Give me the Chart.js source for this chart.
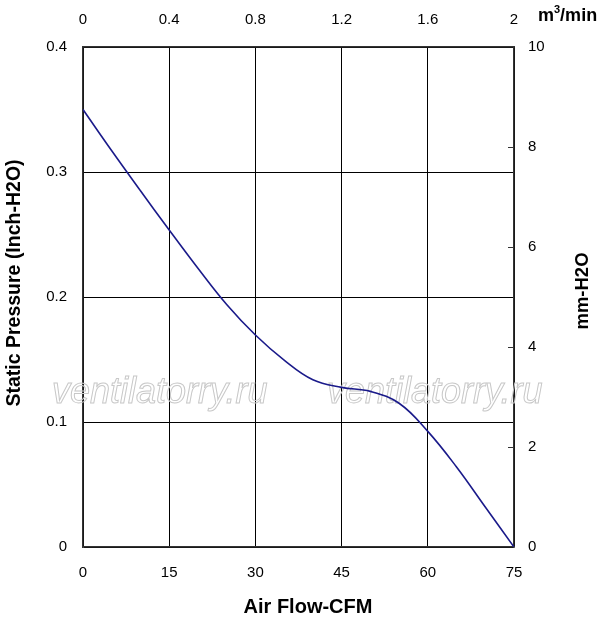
<!DOCTYPE html>
<html>
<head>
<meta charset="utf-8">
<script src="https://cdn.jsdelivr.net/npm/chart.js@4.4.0/dist/chart.umd.min.js"></script>
<style>
html,body{margin:0;padding:0;background:#fff;}
#wrap{width:600px;height:626px;}
</style>
</head>
<body>
<div id="wrap"><canvas id="c" width="600" height="626"></canvas></div>
<script>
// ---- data ----
const airflowCFM = [0, 5, 10, 15, 20, 25, 30, 35, 40, 45, 50, 55, 60, 65, 70, 75];
const pressureInH2O = [0.350, 0.317, 0.285, 0.2536, 0.223, 0.194, 0.1696, 0.1495, 0.1338, 0.1277, 0.1245, 0.115, 0.0925, 0.064, 0.032, 0];
const cfmTicks = [0, 15, 30, 45, 60, 75];
const pressureTicks = [0, 0.1, 0.2, 0.3, 0.4];
const m3minTicks = [0, 0.4, 0.8, 1.2, 1.6, 2];
const mmH2OTicks = [0, 2, 4, 6, 8, 10];
const watermark = 'ventilatorry.ru';

const FONT = '"Liberation Sans", Arial, Helvetica, sans-serif';

const points = airflowCFM.map((x, i) => ({x: x, y: pressureInH2O[i]}));

const setTicks = arr => scale => { scale.ticks = arr.map(v => ({value: v})); };

const overlay = {
  id: 'overlay',
  beforeDatasetsDraw(chart) {
    const ctx = chart.ctx;
    ctx.save();
    ctx.font = 'italic 36px ' + FONT;
    ctx.strokeStyle = '#c8c8c8';
    ctx.lineWidth = 1;
    ctx.textBaseline = 'alphabetic';
    ctx.textAlign = 'left';
    ctx.strokeText(watermark, 52, 403, 221);
    ctx.strokeText(watermark, 327, 403, 218);
    ctx.restore();
  },
  afterDraw(chart) {
    const ctx = chart.ctx;
    const y2 = chart.scales.y2;
    const area = chart.chartArea;
    ctx.save();
    // inward ticks on right axis
    ctx.strokeStyle = '#333';
    ctx.lineWidth = 1;
    mmH2OTicks.slice(1, -1).forEach(v => {
      const py = Math.round(y2.getPixelForValue(v)) + 0.5;
      ctx.beginPath();
      ctx.moveTo(area.right - 6, py);
      ctx.lineTo(area.right, py);
      ctx.stroke();
    });
    // axis titles
    ctx.fillStyle = '#000';
    ctx.font = 'bold 19.5px ' + FONT;
    ctx.textAlign = 'center';
    ctx.textBaseline = 'middle';
    ctx.save();
    ctx.translate(15, 283);
    ctx.rotate(-Math.PI / 2);
    ctx.fillText('Static Pressure (Inch-H2O)', 0, 0);
    ctx.restore();
    ctx.save();
    ctx.font = 'bold 18.5px ' + FONT;
    ctx.translate(583, 291);
    ctx.rotate(-Math.PI / 2);
    ctx.fillText('mm-H2O', 0, 0);
    ctx.restore();
    ctx.font = 'bold 20px ' + FONT;
    ctx.fillText('Air Flow-CFM', 308, 607);
    // top unit m3/min
    ctx.font = 'bold 18px ' + FONT;
    ctx.textAlign = 'left';
    ctx.textBaseline = 'alphabetic';
    let px = 538;
    ctx.fillText('m', px, 21);
    px += ctx.measureText('m').width;
    ctx.font = 'bold 11px ' + FONT;
    ctx.fillText('3', px, 13);
    px += ctx.measureText('3').width;
    ctx.font = 'bold 18px ' + FONT;
    ctx.fillText('/min', px, 21);
    ctx.restore();
  }
};

new Chart(document.getElementById('c'), {
  type: 'scatter',
  data: {
    datasets: [{
      data: points,
      showLine: true,
      borderColor: '#1a1a8a',
      borderWidth: 1.6,
      pointRadius: 0,
      tension: 0.4,
      fill: false
    }]
  },
  options: {
    responsive: false,
    animation: false,
    devicePixelRatio: 1,
    layout: {padding: 0},
    plugins: {legend: {display: false}, tooltip: {enabled: false}},
    scales: {
      x: {
        type: 'linear', position: 'bottom', min: 0, max: 75,
        afterBuildTicks: setTicks(cfmTicks),
        afterFit: s => { s.height = 79; },
        grid: {color: '#000', lineWidth: 1, drawTicks: false},
        border: {color: '#333', width: 1.5},
        ticks: {color: '#000', font: {family: FONT, size: 15}, padding: 17, maxRotation: 0}
      },
      x2: {
        type: 'linear', position: 'top', min: 0, max: 2,
        afterBuildTicks: setTicks(m3minTicks),
        afterFit: s => { s.height = 47; },
        grid: {drawOnChartArea: false, drawTicks: false},
        border: {color: '#333', width: 1.5},
        ticks: {color: '#000', font: {family: FONT, size: 15}, padding: 18, maxRotation: 0,
                callback: v => String(Math.round(v * 10) / 10)}
      },
      y: {
        type: 'linear', position: 'left', min: 0, max: 0.4,
        afterBuildTicks: setTicks(pressureTicks),
        afterFit: s => { s.width = 83; },
        grid: {color: '#000', lineWidth: 1, drawTicks: false},
        border: {color: '#333', width: 1.5},
        ticks: {color: '#000', font: {family: FONT, size: 15}, padding: 16,
                callback: v => String(Math.round(v * 10) / 10)}
      },
      y2: {
        type: 'linear', position: 'right', min: 0, max: 10,
        afterBuildTicks: setTicks(mmH2OTicks),
        afterFit: s => { s.width = 86; },
        grid: {drawOnChartArea: false, drawTicks: false},
        border: {color: '#333', width: 1.5},
        ticks: {color: '#000', font: {family: FONT, size: 15}, padding: 14}
      }
    }
  },
  plugins: [overlay]
});
</script>
</body>
</html>
